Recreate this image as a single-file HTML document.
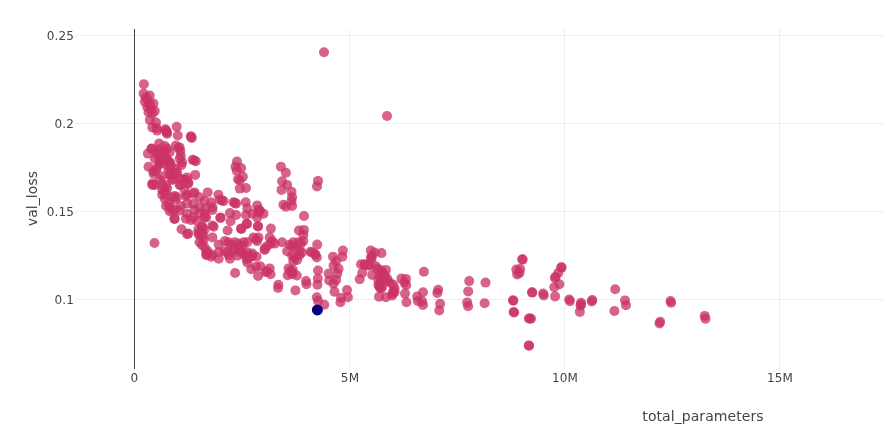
<!DOCTYPE html>
<html><head><meta charset="utf-8"><title>val_loss vs total_parameters</title>
<style>
html,body{margin:0;padding:0;background:#fff;}
body{width:884px;height:443px;overflow:hidden;}
svg{display:block;font-family:"DejaVu Sans","Liberation Sans",sans-serif;}
.t{font-size:12px;fill:#444;letter-spacing:0.15px;}
.a{font-size:14px;fill:#444;letter-spacing:0.07px;}
</style></head><body>
<svg width="884" height="443" viewBox="0 0 884 443">
<rect width="884" height="443" fill="#fff"/>
<g stroke="#eee" stroke-width="1" shape-rendering="crispEdges">
<line x1="349.5" y1="29" x2="349.5" y2="369"/>
<line x1="564.5" y1="29" x2="564.5" y2="369"/>
<line x1="779.5" y1="29" x2="779.5" y2="369"/>
<line x1="75" y1="35.5" x2="884" y2="35.5"/>
<line x1="75" y1="123.5" x2="884" y2="123.5"/>
<line x1="75" y1="211.5" x2="884" y2="211.5"/>
<line x1="75" y1="299.5" x2="884" y2="299.5"/>
</g>
<line x1="134.5" y1="29" x2="134.5" y2="369" stroke="#444" stroke-width="1" shape-rendering="crispEdges"/>
<g fill="#cb3368" fill-opacity="0.77">
<circle cx="615.2" cy="289.3" r="5"/><circle cx="625" cy="300.4" r="5"/><circle cx="626" cy="305.2" r="5"/><circle cx="614.4" cy="311" r="5"/><circle cx="670.5" cy="301" r="5"/><circle cx="671.1" cy="302.8" r="5"/><circle cx="660.2" cy="321.8" r="5"/><circle cx="659.5" cy="323.5" r="5"/><circle cx="704.7" cy="315.9" r="5"/><circle cx="705.5" cy="318.8" r="5"/><circle cx="522.3" cy="259.3" r="5"/><circle cx="522.6" cy="259.6" r="5"/><circle cx="516.3" cy="269.6" r="5"/><circle cx="520.1" cy="269" r="5"/><circle cx="517.2" cy="274.4" r="5"/><circle cx="519.5" cy="272.9" r="5"/><circle cx="561.3" cy="267.2" r="5"/><circle cx="561.6" cy="267.6" r="5"/><circle cx="558.4" cy="272.8" r="5"/><circle cx="555.7" cy="276.7" r="5"/><circle cx="554.9" cy="278" r="5"/><circle cx="559.4" cy="284.3" r="5"/><circle cx="554.3" cy="287.2" r="5"/><circle cx="555.1" cy="296.4" r="5"/><circle cx="532" cy="292.3" r="5"/><circle cx="532.3" cy="292.6" r="5"/><circle cx="543.1" cy="293.5" r="5"/><circle cx="543.8" cy="295.4" r="5"/><circle cx="513" cy="300.3" r="5"/><circle cx="513.4" cy="300.8" r="5"/><circle cx="513.6" cy="312" r="5"/><circle cx="514.2" cy="312.5" r="5"/><circle cx="528.8" cy="318.5" r="5"/><circle cx="531" cy="318.7" r="5"/><circle cx="529.9" cy="318.5" r="5"/><circle cx="528.8" cy="345.4" r="5"/><circle cx="529.1" cy="345.7" r="5"/><circle cx="569.2" cy="299.5" r="5"/><circle cx="570" cy="301.1" r="5"/><circle cx="581.1" cy="302.7" r="5"/><circle cx="580.9" cy="304.7" r="5"/><circle cx="580.6" cy="305.5" r="5"/><circle cx="579.8" cy="311.9" r="5"/><circle cx="592.3" cy="300.1" r="5"/><circle cx="591.7" cy="301.4" r="5"/><circle cx="423.9" cy="271.8" r="5"/><circle cx="406" cy="278.9" r="5"/><circle cx="404.4" cy="282.6" r="5"/><circle cx="406.2" cy="285.1" r="5"/><circle cx="405" cy="293.6" r="5"/><circle cx="423" cy="292.3" r="5"/><circle cx="438.2" cy="289.8" r="5"/><circle cx="437.3" cy="292.9" r="5"/><circle cx="469.2" cy="281.1" r="5"/><circle cx="485.5" cy="282.6" r="5"/><circle cx="468.2" cy="291.4" r="5"/><circle cx="406.5" cy="302.3" r="5"/><circle cx="417.2" cy="296.5" r="5"/><circle cx="417.8" cy="301" r="5"/><circle cx="422.1" cy="301.4" r="5"/><circle cx="423" cy="304.9" r="5"/><circle cx="440.1" cy="303.7" r="5"/><circle cx="439.3" cy="310.5" r="5"/><circle cx="467.2" cy="302.4" r="5"/><circle cx="468.1" cy="306.2" r="5"/><circle cx="484.6" cy="303.3" r="5"/><circle cx="311.8" cy="252.5" r="5"/><circle cx="314.9" cy="253.7" r="5"/><circle cx="316.8" cy="257.5" r="5"/><circle cx="333" cy="256.8" r="5"/><circle cx="342.3" cy="256.8" r="5"/><circle cx="342.9" cy="250.6" r="5"/><circle cx="336.1" cy="261.2" r="5"/><circle cx="333.6" cy="265.6" r="5"/><circle cx="338.6" cy="268.7" r="5"/><circle cx="337.3" cy="273.6" r="5"/><circle cx="328.6" cy="273.6" r="5"/><circle cx="329.2" cy="280.5" r="5"/><circle cx="336.1" cy="279.9" r="5"/><circle cx="333.6" cy="283.6" r="5"/><circle cx="334.5" cy="291.7" r="5"/><circle cx="318" cy="270.5" r="5"/><circle cx="317.8" cy="278.6" r="5"/><circle cx="317.4" cy="284.8" r="5"/><circle cx="306" cy="281.1" r="5"/><circle cx="306.5" cy="284.2" r="5"/><circle cx="316.8" cy="297.3" r="5"/><circle cx="318" cy="301" r="5"/><circle cx="324.3" cy="304.8" r="5"/><circle cx="347" cy="290.1" r="5"/><circle cx="341.1" cy="297.9" r="5"/><circle cx="347.9" cy="297.3" r="5"/><circle cx="340.4" cy="302.3" r="5"/><circle cx="361" cy="264.3" r="5"/><circle cx="364.7" cy="264.9" r="5"/><circle cx="369.1" cy="264.9" r="5"/><circle cx="372.2" cy="255.6" r="5"/><circle cx="374.7" cy="252.5" r="5"/><circle cx="381.5" cy="253.1" r="5"/><circle cx="371.5" cy="259.3" r="5"/><circle cx="359.7" cy="279.2" r="5"/><circle cx="362.2" cy="273" r="5"/><circle cx="372.2" cy="274.9" r="5"/><circle cx="375.9" cy="266.2" r="5"/><circle cx="380.9" cy="269.9" r="5"/><circle cx="385.9" cy="269.9" r="5"/><circle cx="379.6" cy="274.9" r="5"/><circle cx="382.1" cy="278.6" r="5"/><circle cx="379.6" cy="286.1" r="5"/><circle cx="380.9" cy="288.6" r="5"/><circle cx="389.6" cy="282.4" r="5"/><circle cx="387.1" cy="278.6" r="5"/><circle cx="379" cy="296.7" r="5"/><circle cx="385.9" cy="297.3" r="5"/><circle cx="393.3" cy="291.1" r="5"/><circle cx="392.1" cy="295.4" r="5"/><circle cx="394.6" cy="288.6" r="5"/><circle cx="401.4" cy="278.6" r="5"/><circle cx="364.7" cy="264.3" r="5"/><circle cx="368.4" cy="265.6" r="5"/><circle cx="370.9" cy="257.5" r="5"/><circle cx="382.1" cy="272.4" r="5"/><circle cx="380.9" cy="281.1" r="5"/><circle cx="384.6" cy="274.9" r="5"/><circle cx="379.6" cy="287.3" r="5"/><circle cx="387.1" cy="281.1" r="5"/><circle cx="392.7" cy="293.6" r="5"/><circle cx="315.6" cy="255" r="5"/><circle cx="235.1" cy="273" r="5"/><circle cx="278.4" cy="284.8" r="5"/><circle cx="278" cy="288" r="5"/><circle cx="295.4" cy="290.4" r="5"/><circle cx="251.3" cy="269.3" r="5"/><circle cx="256" cy="266.8" r="5"/><circle cx="260.4" cy="266.2" r="5"/><circle cx="258.1" cy="275.9" r="5"/><circle cx="265.7" cy="272.1" r="5"/><circle cx="269.7" cy="268.4" r="5"/><circle cx="270.6" cy="274.3" r="5"/><circle cx="267.2" cy="271.2" r="5"/><circle cx="288.6" cy="268.4" r="5"/><circle cx="287.7" cy="275.3" r="5"/><circle cx="292.7" cy="269.9" r="5"/><circle cx="292.3" cy="274.3" r="5"/><circle cx="296.8" cy="275.5" r="5"/><circle cx="294.6" cy="257.5" r="5"/><circle cx="297.1" cy="260" r="5"/><circle cx="293.3" cy="261.2" r="5"/><circle cx="299.5" cy="255" r="5"/><circle cx="292.1" cy="255.6" r="5"/><circle cx="246" cy="255" r="5"/><circle cx="252.3" cy="256.2" r="5"/><circle cx="256.6" cy="256.8" r="5"/><circle cx="246.7" cy="259.3" r="5"/><circle cx="247.3" cy="262.4" r="5"/><circle cx="237.3" cy="255.6" r="5"/><circle cx="249.8" cy="257.5" r="5"/><circle cx="211.2" cy="256.8" r="5"/><circle cx="218.7" cy="258.7" r="5"/><circle cx="229.9" cy="258.7" r="5"/><circle cx="228.6" cy="255" r="5"/><circle cx="206.2" cy="255" r="5"/><circle cx="154.5" cy="243" r="5"/><circle cx="169.7" cy="211.2" r="5"/><circle cx="174.7" cy="218.7" r="5"/><circle cx="179.6" cy="210.6" r="5"/><circle cx="185.9" cy="218.7" r="5"/><circle cx="187.1" cy="213.7" r="5"/><circle cx="181.5" cy="229.3" r="5"/><circle cx="188.3" cy="233.6" r="5"/><circle cx="194.6" cy="210" r="5"/><circle cx="199.5" cy="213.7" r="5"/><circle cx="202" cy="226.2" r="5"/><circle cx="197.1" cy="221.2" r="5"/><circle cx="198.3" cy="229.9" r="5"/><circle cx="199.5" cy="242.3" r="5"/><circle cx="203.3" cy="236.1" r="5"/><circle cx="204.5" cy="217.4" r="5"/><circle cx="193.3" cy="217.4" r="5"/><circle cx="199.5" cy="234.9" r="5"/><circle cx="204.5" cy="247.3" r="5"/><circle cx="304" cy="216" r="5"/><circle cx="298.9" cy="230.5" r="5"/><circle cx="303.9" cy="229.9" r="5"/><circle cx="303.3" cy="234.9" r="5"/><circle cx="270.9" cy="228.6" r="5"/><circle cx="257.9" cy="226.2" r="5"/><circle cx="258.1" cy="226.4" r="5"/><circle cx="241.1" cy="228.6" r="5"/><circle cx="246.7" cy="223.7" r="5"/><circle cx="241.3" cy="228.9" r="5"/><circle cx="246.9" cy="223.9" r="5"/><circle cx="227.6" cy="230.5" r="5"/><circle cx="212.4" cy="225.5" r="5"/><circle cx="213.7" cy="226.8" r="5"/><circle cx="220.5" cy="217.4" r="5"/><circle cx="229.9" cy="213.1" r="5"/><circle cx="230.5" cy="221.2" r="5"/><circle cx="236.1" cy="215" r="5"/><circle cx="246" cy="215" r="5"/><circle cx="252.3" cy="213.7" r="5"/><circle cx="258.5" cy="212.5" r="5"/><circle cx="263.5" cy="213.7" r="5"/><circle cx="257.2" cy="217.4" r="5"/><circle cx="212.4" cy="210" r="5"/><circle cx="205" cy="213.7" r="5"/><circle cx="206.2" cy="217.4" r="5"/><circle cx="202.5" cy="227.4" r="5"/><circle cx="201.9" cy="233.6" r="5"/><circle cx="203.7" cy="239.8" r="5"/><circle cx="212.4" cy="237.4" r="5"/><circle cx="218.7" cy="244.8" r="5"/><circle cx="224.9" cy="241.1" r="5"/><circle cx="228.6" cy="242.3" r="5"/><circle cx="234.8" cy="242.3" r="5"/><circle cx="238.6" cy="243.6" r="5"/><circle cx="243.6" cy="242.3" r="5"/><circle cx="247.3" cy="242.3" r="5"/><circle cx="253.5" cy="237.4" r="5"/><circle cx="258.5" cy="237.4" r="5"/><circle cx="257.2" cy="241.1" r="5"/><circle cx="269.7" cy="237.4" r="5"/><circle cx="272.2" cy="241.1" r="5"/><circle cx="267.2" cy="246.1" r="5"/><circle cx="264.7" cy="248.6" r="5"/><circle cx="274.7" cy="243.6" r="5"/><circle cx="282.1" cy="242.3" r="5"/><circle cx="289.6" cy="244.8" r="5"/><circle cx="293.3" cy="242.3" r="5"/><circle cx="294.6" cy="247.3" r="5"/><circle cx="298.3" cy="242.3" r="5"/><circle cx="303.3" cy="241.1" r="5"/><circle cx="299.5" cy="251" r="5"/><circle cx="207.5" cy="251" r="5"/><circle cx="212.4" cy="254.8" r="5"/><circle cx="218.7" cy="252.3" r="5"/><circle cx="233.6" cy="248.6" r="5"/><circle cx="239.8" cy="249.8" r="5"/><circle cx="247.3" cy="252.3" r="5"/><circle cx="252.3" cy="253.5" r="5"/><circle cx="206.2" cy="252.5" r="5"/><circle cx="224.9" cy="251.3" r="5"/><circle cx="234.2" cy="251.3" r="5"/><circle cx="241.1" cy="252.5" r="5"/><circle cx="264.7" cy="250" r="5"/><circle cx="287.1" cy="251.3" r="5"/><circle cx="302" cy="252.5" r="5"/><circle cx="317.2" cy="244.6" r="5"/><circle cx="148.5" cy="166.8" r="5"/><circle cx="195.2" cy="174.9" r="5"/><circle cx="181.5" cy="165" r="5"/><circle cx="153.5" cy="171.2" r="5"/><circle cx="154.8" cy="184.9" r="5"/><circle cx="152.3" cy="183.6" r="5"/><circle cx="157.2" cy="167.5" r="5"/><circle cx="162.2" cy="176.2" r="5"/><circle cx="164.7" cy="191.1" r="5"/><circle cx="162.2" cy="194.8" r="5"/><circle cx="166" cy="184.9" r="5"/><circle cx="169.7" cy="167.5" r="5"/><circle cx="170.9" cy="174.9" r="5"/><circle cx="173.4" cy="178.7" r="5"/><circle cx="174.7" cy="196.1" r="5"/><circle cx="177.1" cy="172.4" r="5"/><circle cx="172.2" cy="197.3" r="5"/><circle cx="180.9" cy="184.9" r="5"/><circle cx="183.4" cy="179.9" r="5"/><circle cx="187.1" cy="177.4" r="5"/><circle cx="188.3" cy="183.6" r="5"/><circle cx="185.9" cy="196.1" r="5"/><circle cx="193.3" cy="193.6" r="5"/><circle cx="199.5" cy="197.3" r="5"/><circle cx="166" cy="206" r="5"/><circle cx="169.7" cy="207.3" r="5"/><circle cx="180.9" cy="206" r="5"/><circle cx="174.7" cy="209.8" r="5"/><circle cx="193.3" cy="203.6" r="5"/><circle cx="199.5" cy="207.3" r="5"/><circle cx="204.5" cy="201.1" r="5"/><circle cx="159.7" cy="163.7" r="5"/><circle cx="164.7" cy="163.7" r="5"/><circle cx="169.7" cy="162.5" r="5"/><circle cx="235.5" cy="166.8" r="5"/><circle cx="241.1" cy="168.1" r="5"/><circle cx="236.7" cy="170.6" r="5"/><circle cx="242.9" cy="176.8" r="5"/><circle cx="238" cy="179.3" r="5"/><circle cx="239.8" cy="180.5" r="5"/><circle cx="239.8" cy="188.6" r="5"/><circle cx="246" cy="188" r="5"/><circle cx="280.9" cy="166.8" r="5"/><circle cx="285.9" cy="172.8" r="5"/><circle cx="282.1" cy="181.2" r="5"/><circle cx="287.1" cy="184.9" r="5"/><circle cx="281.5" cy="189.9" r="5"/><circle cx="291.5" cy="191.7" r="5"/><circle cx="292.1" cy="197.3" r="5"/><circle cx="291.5" cy="201.1" r="5"/><circle cx="283.4" cy="204.8" r="5"/><circle cx="285.9" cy="206.7" r="5"/><circle cx="292.1" cy="206" r="5"/><circle cx="207.7" cy="192.4" r="5"/><circle cx="218.4" cy="194.8" r="5"/><circle cx="211.2" cy="202.3" r="5"/><circle cx="219.9" cy="199.8" r="5"/><circle cx="223.6" cy="201.1" r="5"/><circle cx="233.6" cy="202.3" r="5"/><circle cx="236.1" cy="203.6" r="5"/><circle cx="245.7" cy="202.3" r="5"/><circle cx="247.3" cy="208.5" r="5"/><circle cx="257.2" cy="205.4" r="5"/><circle cx="258.5" cy="209.8" r="5"/><circle cx="212.4" cy="207.3" r="5"/><circle cx="205.6" cy="208.5" r="5"/><circle cx="318" cy="180.9" r="5"/><circle cx="317" cy="186.4" r="5"/><circle cx="149.8" cy="120" r="5"/><circle cx="156" cy="122.5" r="5"/><circle cx="152.3" cy="127.4" r="5"/><circle cx="156.6" cy="128.1" r="5"/><circle cx="157.2" cy="130.6" r="5"/><circle cx="165.3" cy="129.3" r="5"/><circle cx="166.6" cy="131.8" r="5"/><circle cx="167.2" cy="133.7" r="5"/><circle cx="176.7" cy="126.8" r="5"/><circle cx="177.8" cy="135.5" r="5"/><circle cx="190.8" cy="136.2" r="5"/><circle cx="191.8" cy="138" r="5"/><circle cx="192.7" cy="159.8" r="5"/><circle cx="195.8" cy="161.3" r="5"/><circle cx="159.1" cy="143.6" r="5"/><circle cx="151.6" cy="148.6" r="5"/><circle cx="147.9" cy="153.6" r="5"/><circle cx="164.7" cy="146.1" r="5"/><circle cx="167.2" cy="148.6" r="5"/><circle cx="157.2" cy="154.8" r="5"/><circle cx="162.2" cy="154.8" r="5"/><circle cx="166" cy="157.3" r="5"/><circle cx="169.7" cy="152.3" r="5"/><circle cx="175.9" cy="145.5" r="5"/><circle cx="179.6" cy="147.4" r="5"/><circle cx="180.3" cy="151.1" r="5"/><circle cx="180.9" cy="156.1" r="5"/><circle cx="182.1" cy="162.3" r="5"/><circle cx="154.8" cy="158.6" r="5"/><circle cx="161" cy="161" r="5"/><circle cx="169.7" cy="162.3" r="5"/><circle cx="143.9" cy="84.3" r="5"/><circle cx="143.6" cy="93.6" r="5"/><circle cx="149.8" cy="95.5" r="5"/><circle cx="144.8" cy="101.7" r="5"/><circle cx="147.3" cy="99.9" r="5"/><circle cx="149.8" cy="103.6" r="5"/><circle cx="153.5" cy="103.6" r="5"/><circle cx="147.3" cy="107.3" r="5"/><circle cx="151" cy="108.6" r="5"/><circle cx="154.8" cy="111.1" r="5"/><circle cx="148.5" cy="112.3" r="5"/><circle cx="152.3" cy="113.6" r="5"/><circle cx="149.8" cy="106.1" r="5"/><circle cx="146" cy="97.4" r="5"/><circle cx="324" cy="52.2" r="5"/><circle cx="387" cy="116" r="5"/><circle cx="166" cy="130.6" r="5"/><circle cx="166.6" cy="132.4" r="5"/><circle cx="191.2" cy="136.9" r="5"/><circle cx="194.2" cy="160.5" r="5"/><circle cx="151.6" cy="148.8" r="5"/><circle cx="162.2" cy="152.3" r="5"/><circle cx="159.7" cy="157.3" r="5"/><circle cx="167.2" cy="159.8" r="5"/><circle cx="164.7" cy="151.1" r="5"/><circle cx="156" cy="152.3" r="5"/><circle cx="178.4" cy="148" r="5"/><circle cx="158.5" cy="149.2" r="5"/><circle cx="179.6" cy="158.6" r="5"/><circle cx="159.7" cy="162.5" r="5"/><circle cx="170.9" cy="165" r="5"/><circle cx="156" cy="170.6" r="5"/><circle cx="168.4" cy="170" r="5"/><circle cx="175.9" cy="168.7" r="5"/><circle cx="153.5" cy="173.7" r="5"/><circle cx="169.7" cy="174.9" r="5"/><circle cx="175.9" cy="173.7" r="5"/><circle cx="159.7" cy="179.9" r="5"/><circle cx="172.2" cy="179.9" r="5"/><circle cx="180.9" cy="178.7" r="5"/><circle cx="185.9" cy="179.9" r="5"/><circle cx="152.3" cy="184.9" r="5"/><circle cx="162.2" cy="184.9" r="5"/><circle cx="179.6" cy="184.9" r="5"/><circle cx="188.3" cy="182.4" r="5"/><circle cx="162.2" cy="189.9" r="5"/><circle cx="167.2" cy="188.6" r="5"/><circle cx="184.6" cy="189.9" r="5"/><circle cx="166" cy="194.8" r="5"/><circle cx="177.1" cy="197.3" r="5"/><circle cx="187.1" cy="194.8" r="5"/><circle cx="194.6" cy="192.4" r="5"/><circle cx="164.7" cy="198.6" r="5"/><circle cx="174.7" cy="199.8" r="5"/><circle cx="168.4" cy="203.6" r="5"/><circle cx="187.1" cy="203.6" r="5"/><circle cx="172.2" cy="209.8" r="5"/><circle cx="174.4" cy="218.9" r="5"/><circle cx="187.1" cy="234.2" r="5"/><circle cx="190.8" cy="219.9" r="5"/><circle cx="198.3" cy="233.6" r="5"/><circle cx="202" cy="244.8" r="5"/><circle cx="207" cy="254.8" r="5"/><circle cx="204.5" cy="229.9" r="5"/><circle cx="237" cy="161.5" r="5"/><circle cx="221.8" cy="200.4" r="5"/><circle cx="234.8" cy="202.9" r="5"/><circle cx="259.7" cy="210.4" r="5"/><circle cx="231.1" cy="244.8" r="5"/><circle cx="242.3" cy="246.1" r="5"/><circle cx="256" cy="239.2" r="5"/><circle cx="270.9" cy="243.6" r="5"/><circle cx="292.1" cy="246.1" r="5"/><circle cx="300.8" cy="243.6" r="5"/><circle cx="227.4" cy="252.3" r="5"/><circle cx="244.8" cy="254.8" r="5"/><circle cx="259.7" cy="211.2" r="5"/><circle cx="377.1" cy="268.7" r="5"/><circle cx="378.4" cy="279.9" r="5"/><circle cx="378.4" cy="284.8" r="5"/><circle cx="382.1" cy="287.3" r="5"/><circle cx="393.3" cy="284.8" r="5"/><circle cx="394.6" cy="292.3" r="5"/><circle cx="290.2" cy="271.2" r="5"/><circle cx="292.1" cy="272.4" r="5"/><circle cx="370.7" cy="250.5" r="5"/><circle cx="310.6" cy="251.7" r="5"/><circle cx="220.4" cy="217.9" r="5"/>
</g>
<circle cx="317.4" cy="309.9" r="5.5" fill="#000080"/>
<g class="t" text-anchor="end">
<text x="74" y="39.7">0.25</text>
<text x="74" y="127.7">0.2</text>
<text x="74" y="215.7">0.15</text>
<text x="74" y="303.7">0.1</text>
</g>
<g class="t" text-anchor="middle">
<text x="134.5" y="382">0</text>
<text x="350" y="382">5M</text>
<text x="565" y="382">10M</text>
<text x="780" y="382">15M</text>
</g>
<text class="a" text-anchor="middle" x="703" y="421">total_parameters</text>
<text class="a" text-anchor="middle" transform="translate(37,198.5) rotate(-90)">val_loss</text>
</svg>
</body></html>
